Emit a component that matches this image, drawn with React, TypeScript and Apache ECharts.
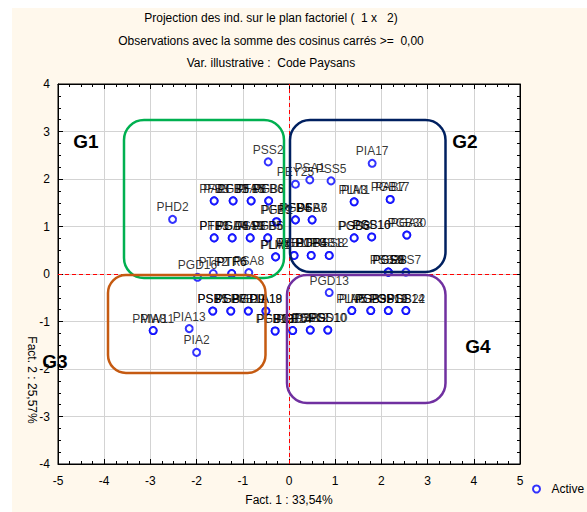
import React, { useEffect, useRef } from "react";
import * as echarts from "echarts";

// Observation labels and their coordinates on factors 1 and 2
const obsLabels = [
  "PSS2", "PHD2",
  "PA1", "PFB3", "PFB2", "PGB5", "PIA5", "PFB8", "PGB8", "PFB6",
  "PFB1", "PTF3", "PGD8", "PSA4", "PIA9", "PSS3", "PFB5", "PGB6",
  "PFB9", "PGD2", "PLM4", "PLA1",
  "PGD16", "PTF2", "PTF6", "PTR6", "PSA8",
  "PEY25", "PSA1", "PSS5", "PIA17",
  "PLM1", "PIA3", "PGB17", "PAB7",
  "PFB4", "PGD6", "PSA6", "PFB7",
  "PGD3", "PSS6", "PSS16", "PGB10", "PGB30", "PGA3",
  "PGB1", "PFB10", "PGB4", "PTF8", "PGB12", "PSS8",
  "PSS9", "PSS38", "PGS8", "PSS7",
  "PMW11", "PIA8", "PIA13", "PIA2",
  "PSB5", "PSB1", "PGB7", "PSB8", "PGD9", "PFB11", "PIA18", "PIA19",
  "PFB12", "PGB13", "PGB14", "PGD7", "PSB9", "PSS12", "PSS10", "PGD10",
  "PGD13",
  "PLM5", "PIA6", "PSB3", "PGB9", "PGB19", "PSS11", "PSS14", "PGB22",
];

const fact1 = [
  -0.45, -2.52,
  -1.62, -1.62, -1.21, -1.21, -0.82, -0.82, -0.44, -0.44,
  -1.62, -1.62, -1.23, -1.23, -0.84, -0.84, -0.46, -0.46,
  -0.27, -0.27, -0.29, -0.29,
  -1.98, -1.64, -1.24, -1.24, -0.87,
  0.14, 0.45, 0.91, 1.80,
  1.41, 1.41, 2.19, 2.19,
  0.14, 0.14, 0.50, 0.50,
  1.41, 1.41, 1.79, 1.79, 2.55, 2.55,
  0.11, 0.11, 0.48, 0.48, 0.87, 0.87,
  2.15, 2.15, 2.15, 2.53,
  -2.94, -2.94, -2.16, -2.00,
  -1.65, -1.65, -1.26, -1.26, -0.88, -0.88, -0.50, -0.50,
  -0.30, -0.30, 0.08, 0.08, 0.46, 0.46, 0.84, 0.84,
  0.87,
  1.36, 1.36, 1.77, 1.77, 2.15, 2.15, 2.53, 2.53,
];

const fact2 = [
  2.36, 1.15,
  1.54, 1.54, 1.54, 1.54, 1.54, 1.54, 1.54, 1.54,
  0.76, 0.76, 0.76, 0.76, 0.76, 0.76, 0.76, 0.76,
  1.10, 1.10, 0.36, 0.36,
  -0.07, 0.01, 0.01, 0.01, 0.03,
  1.89, 1.98, 1.96, 2.33,
  1.52, 1.52, 1.57, 1.57,
  1.14, 1.14, 1.14, 1.14,
  0.76, 0.76, 0.78, 0.78, 0.82, 0.82,
  0.39, 0.39, 0.39, 0.39, 0.39, 0.39,
  0.04, 0.04, 0.04, 0.04,
  -1.19, -1.19, -1.15, -1.65,
  -0.78, -0.78, -0.78, -0.78, -0.78, -0.78, -0.78, -0.78,
  -1.20, -1.20, -1.19, -1.19, -1.18, -1.18, -1.18, -1.18,
  -0.39,
  -0.77, -0.77, -0.77, -0.77, -0.77, -0.77, -0.77, -0.77,
];

const titleLines = [
  "Projection des ind. sur le plan factoriel (  1 x   2)",
  "Observations avec la somme des cosinus carrés >=  0,00",
  "Var. illustrative :  Code Paysans",
];
const xAxisName = "Fact. 1 : 33,54%";
const yAxisName = "Fact. 2 : 25,57%";
const seriesName = "Active";
const groupNames = ["G1", "G2", "G3", "G4"];

const FONT = "'Liberation Sans', Arial, sans-serif";

export default function App() {
  const ref = useRef<HTMLDivElement>(null);

  useEffect(() => {
    document.body.style.margin = "0";
    if (!ref.current) return;
    const chart = echarts.init(ref.current, undefined, { renderer: "svg" });

    const data = obsLabels.map((name, i) => ({
      name,
      value: [fact1[i], fact2[i]],
    }));

    const baseAxis = {
      type: "value" as const,
      interval: 1,
      axisLine: { show: true, onZero: false, lineStyle: { color: "#000", width: 1 } },
      axisTick: { show: true, inside: true, length: 5, lineStyle: { color: "#000" } },
      minorTick: { show: true, splitNumber: 4, length: 3, lineStyle: { color: "#000" } },
      minorSplitLine: { show: false },
    };

    const boxes = [
      { x: 124, y: 120, w: 160, h: 158, r: 20, color: "#00B050" },
      { x: 290, y: 120, w: 155.5, h: 152, r: 20, color: "#002060" },
      { x: 108, y: 275, w: 157.5, h: 98, r: 18, color: "#C55A11" },
      { x: 287, y: 275, w: 158.5, h: 128, r: 20, color: "#7030A0" },
    ];
    const groupLabelPos = [
      [86, 141],
      [465, 141],
      [55, 361],
      [478, 346],
    ];

    const graphic: any[] = [];
    titleLines.forEach((t, i) => {
      graphic.push({
        type: "text",
        x: 271,
        y: 18 + i * 22.5,
        style: {
          text: t,
          fontSize: 12,
          fontFamily: FONT,
          fill: "#000",
          align: "center",
          verticalAlign: "middle",
        },
        z: 10,
      });
    });
    boxes.forEach((b) => {
      graphic.push({
        type: "rect",
        shape: { x: b.x, y: b.y, width: b.w, height: b.h, r: b.r },
        style: { fill: "none", stroke: b.color, lineWidth: 2.5 },
        z: 20,
        silent: true,
      });
    });
    groupNames.forEach((g, i) => {
      graphic.push({
        type: "text",
        x: groupLabelPos[i][0],
        y: groupLabelPos[i][1],
        style: {
          text: g,
          fontSize: 19,
          fontWeight: "bold",
          fontFamily: FONT,
          fill: "#000",
          align: "center",
          verticalAlign: "middle",
        },
        z: 20,
      });
    });
    graphic.push({
      type: "text",
      x: 32,
      y: 380,
      rotation: -Math.PI / 2,
      style: {
        text: yAxisName,
        fontSize: 12,
        fontFamily: FONT,
        fill: "#000",
        align: "center",
        verticalAlign: "middle",
      },
      z: 10,
    });

    chart.setOption({
      animation: false,
      textStyle: { fontFamily: FONT },
      grid: {
        left: 58,
        right: 67,
        top: 84,
        bottom: 48,
        show: true,
        backgroundColor: "#FFFFFF",
        borderColor: "#000",
        borderWidth: 1,
      },
      legend: {
        data: [seriesName],
        left: 527,
        top: 478,
        itemWidth: 20,
        itemHeight: 7,
        textStyle: { fontSize: 12, color: "#000", fontFamily: FONT },
      },
      xAxis: [
        {
          ...baseAxis,
          min: -5,
          max: 5,
          position: "bottom",
          splitLine: { show: true, lineStyle: { color: "#D3D3D3", width: 1 } },
          axisLabel: { fontSize: 12, color: "#000", margin: 11, fontFamily: FONT },
          name: xAxisName,
          nameLocation: "middle",
          nameGap: 30,
          nameTextStyle: { fontSize: 12, color: "#000", fontFamily: FONT },
        },
        {
          ...baseAxis,
          min: -5,
          max: 5,
          position: "top",
          splitLine: { show: false },
          axisLabel: { show: false },
        },
      ],
      yAxis: [
        {
          ...baseAxis,
          min: -4,
          max: 4,
          position: "left",
          splitLine: { show: true, lineStyle: { color: "#D3D3D3", width: 1 } },
          axisLabel: { fontSize: 12, color: "#000", margin: 8, fontFamily: FONT },
        },
        {
          ...baseAxis,
          min: -4,
          max: 4,
          position: "right",
          splitLine: { show: false },
          axisLabel: { show: false },
        },
      ],
      graphic,
      series: [
        {
          name: seriesName,
          type: "scatter",
          xAxisIndex: 0,
          yAxisIndex: 0,
          data,
          symbol: "emptyCircle",
          symbolSize: 7,
          itemStyle: { color: "#0000FF", borderColor: "#0000FF", borderWidth: 1.2 },
          label: {
            show: true,
            position: "top",
            distance: 1.5,
            formatter: "{b}",
            fontSize: 12,
            color: "#000",
            fontFamily: FONT,
          },
          emphasis: { disabled: true },
          markLine: {
            silent: true,
            symbol: ["none", "none"],
            label: { show: false },
            lineStyle: { color: "#FF0000", type: [4, 3], width: 1 },
            data: [{ xAxis: 0 }, { yAxis: 0 }],
          },
        },
      ],
    });

    return () => chart.dispose();
  }, []);

  return (
    <div style={{ position: "relative", width: 587, height: 512, background: "#FFFFFF" }}>
      <div
        style={{
          position: "absolute",
          left: 12,
          top: 8,
          width: 575,
          height: 504,
          background: "#FFF8EC",
        }}
      />
      <div ref={ref} style={{ position: "absolute", left: 0, top: 0, width: 587, height: 512 }} />
    </div>
  );
}
